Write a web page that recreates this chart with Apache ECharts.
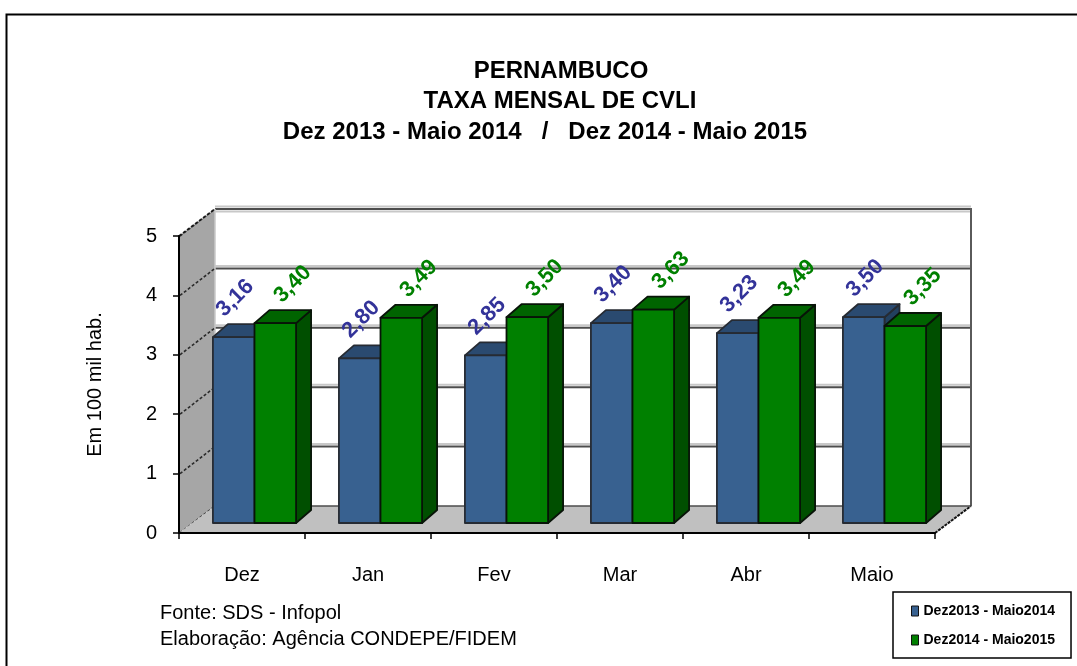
<!DOCTYPE html>
<html><head><meta charset="utf-8">
<script src="https://cdn.jsdelivr.net/npm/echarts@6/dist/echarts.min.js"></script>
<style>html,body{margin:0;padding:0;background:#fff}#c{width:1077px;height:666px}</style>
</head><body><div id="c"></div>
<script>
// ---- data ----
const categories = ['Dez', 'Jan', 'Fev', 'Mar', 'Abr', 'Maio'];
const seriesNames = ['Dez2013 - Maio2014', 'Dez2014 - Maio2015'];
const values2013 = [3.16, 2.80, 2.85, 3.40, 3.23, 3.50];
const values2014 = [3.40, 3.49, 3.50, 3.63, 3.49, 3.35];
const yTicks = [0, 1, 2, 3, 4, 5];
const titleLines = ['PERNAMBUCO', 'TAXA MENSAL DE CVLI', 'Dez 2013 - Maio 2014   /   Dez 2014 - Maio 2015'];
const yAxisName = 'Em 100 mil hab.';
const sourceLines = ['Fonte: SDS - Infopol', 'Elaboração: Agência CONDEPE/FIDEM'];

// ---- styling / layout ----
const FONT = 'Liberation Sans, Arial, sans-serif';
const DEPTH = [36, -27];          // wall depth offset
const BAR_DEPTH = [15, -13];      // bar depth offset
const BLUE = { front: '#386190', top: '#2a4a70', side: '#22405f', stroke: '#262b33', label: '#333399' };
const GREEN = { front: '#008000', top: '#006400', side: '#004f00', stroke: '#081408', label: '#008000' };
const fmt = v => v.toFixed(2).replace('.', ',');

const chart = echarts.init(document.getElementById('c'), null, { renderer: 'canvas' });

function renderWalls(params, api) {
  const cs = params.coordSys;
  const xL = cs.x, xR = cs.x + cs.width;
  const y0 = api.coord([0, 0])[1];
  const yTop = api.coord([0, yTicks[yTicks.length - 1]])[1];
  const dx = DEPTH[0], dy = DEPTH[1];
  const ch = [];
  ch.push({ type: 'rect', shape: { x: xL + dx, y: yTop + dy, width: xR - xL, height: y0 - yTop }, style: { fill: '#ffffff' } });
  yTicks.forEach(v => {
    const y = api.coord([0, v])[1] + dy;
    if (v > 0) {
      ch.push({ type: 'line', shape: { x1: xL + dx, y1: y - 2.5, x2: xR + dx, y2: y - 2.5 }, style: { stroke: '#c8c8c8', lineWidth: 2 } });
      ch.push({ type: 'line', shape: { x1: xL + dx, y1: y, x2: xR + dx, y2: y }, style: { stroke: '#4d4d4d', lineWidth: 2 } });
    }
  });
  ch.push({ type: 'line', shape: { x1: xL + dx, y1: yTop + dy + 2.5, x2: xR + dx, y2: yTop + dy + 2.5 }, style: { stroke: '#c8c8c8', lineWidth: 2 } });
  ch.push({ type: 'line', shape: { x1: xR + dx, y1: yTop + dy - 1, x2: xR + dx, y2: y0 + dy }, style: { stroke: '#5a5a5a', lineWidth: 2 } });
  ch.push({ type: 'polygon', shape: { points: [[xL, yTop], [xL + dx, yTop + dy], [xL + dx, y0 + dy], [xL, y0]] }, style: { fill: '#a6a6a6' } });
  ch.push({ type: 'line', shape: { x1: xL + dx, y1: yTop + dy, x2: xL + dx, y2: y0 + dy }, style: { stroke: '#c8c8c8', lineWidth: 1.5 } });
  yTicks.forEach(v => {
    const y = api.coord([0, v])[1];
    ch.push({ type: 'line', shape: { x1: xL + 1, y1: y, x2: xL + dx, y2: y + dy }, style: { stroke: '#2a2a2a', lineWidth: 1.6, lineDash: [3, 2] } });
  });
  ch.push({ type: 'line', shape: { x1: xL, y1: yTop, x2: xL + dx, y2: yTop + dy }, style: { stroke: '#1a1a1a', lineWidth: 1.6, lineDash: [3, 2] } });
  ch.push({ type: 'polygon', shape: { points: [[xL, y0], [xR, y0], [xR + dx, y0 + dy], [xL + dx, y0 + dy]] }, style: { fill: '#c0c0c0' } });
  ch.push({ type: 'line', shape: { x1: xR, y1: y0, x2: xR + dx, y2: y0 + dy }, style: { stroke: '#111', lineWidth: 2, lineDash: [3, 1] } });
  ch.push({ type: 'line', shape: { x1: xL + dx, y1: y0 + dy, x2: xR + dx, y2: y0 + dy }, style: { stroke: '#4d4d4d', lineWidth: 1.5 } });
  return { type: 'group', children: ch };
}

function makeBarRenderer(side, col) {
  return function (params, api) {
    const idx = api.value(0), val = api.value(1);
    const top = api.coord([idx, val]);
    const base = api.coord([idx, 0]);
    const band = api.size([1, 0])[0];
    const w = band * 0.33;
    const xl = side === 0 ? top[0] - w : top[0];
    const yt = top[1], yb = base[1];
    const dx = BAR_DEPTH[0], dy = BAR_DEPTH[1];
    const st = { stroke: col.stroke, lineWidth: 1.8, lineJoin: 'round' };
    const ch = [
      { type: 'polygon', shape: { points: [[xl + w, yt], [xl + w + dx, yt + dy], [xl + w + dx, yb + dy], [xl + w, yb]] }, style: Object.assign({ fill: col.side }, st) },
      { type: 'polygon', shape: { points: [[xl, yt], [xl + w, yt], [xl + w + dx, yt + dy], [xl + dx, yt + dy]] }, style: Object.assign({ fill: col.top }, st) },
      { type: 'rect', shape: { x: xl, y: yt, width: w, height: yb - yt }, style: Object.assign({ fill: col.front }, st) },
      {
        type: 'text', x: xl + w / 2 + (side === 0 ? 1.5 : 17.5), y: yt - 39, rotation: Math.PI / 4,
        style: { text: fmt(val), fill: col.label, font: 'bold 22px ' + FONT, align: 'center', verticalAlign: 'middle' }
      }
    ];
    return { type: 'group', children: ch };
  };
}

const option = {
  animation: false,
  backgroundColor: '#ffffff',
  title: [
    { text: titleLines[0], left: 556, top: 54, textAlign: 'center', textStyle: { fontFamily: FONT, fontSize: 24, fontWeight: 'bold', color: '#000' } },
    { text: titleLines[1], left: 555, top: 84, textAlign: 'center', textStyle: { fontFamily: FONT, fontSize: 24, fontWeight: 'bold', color: '#000' } },
    { text: titleLines[2], left: 540, top: 115, textAlign: 'center', textStyle: { fontFamily: FONT, fontSize: 24, fontWeight: 'bold', color: '#000' } }
  ],
  legend: {
    orient: 'vertical', left: 893, top: 592,
    data: seriesNames,
    icon: 'rect', itemWidth: 7, itemHeight: 10, itemGap: 15, itemTextGap: 2,
    padding: [12, 16, 11, 18],
    borderColor: '#000', borderWidth: 1.5, backgroundColor: '#fff',
    itemStyle: { borderColor: '#111', borderWidth: 1 },
    textStyle: { fontFamily: FONT, fontSize: 14, fontWeight: 'bold', color: '#000' },
    selectedMode: false
  },
  grid: [
    { left: 179, top: 236, width: 756, height: 297, outerBoundsMode: 'none' },
    { left: 191.5, top: 229, width: 756, height: 294, outerBoundsMode: 'none' }
  ],
  xAxis: [
    {
      gridIndex: 0, type: 'category', data: categories, boundaryGap: true,
      axisLine: { lineStyle: { color: '#000', width: 2 } },
      axisTick: { show: true, length: 6, lineStyle: { color: '#000', width: 1.5 } },
      axisLabel: { fontFamily: FONT, fontSize: 20, color: '#000', margin: 32 },
      splitLine: { show: false }, z: 5
    },
    { gridIndex: 1, type: 'category', data: categories, boundaryGap: true, show: false }
  ],
  yAxis: [
    {
      gridIndex: 0, type: 'value', min: 0, max: 5, interval: 1,
      name: yAxisName, nameLocation: 'middle', nameGap: 74, nameRotate: 90,
      nameTextStyle: { fontFamily: FONT, fontSize: 20, color: '#000' },
      axisLine: { show: true, lineStyle: { color: '#000', width: 2 } },
      axisTick: { show: true, length: 6, lineStyle: { color: '#000', width: 1.5 } },
      axisLabel: { fontFamily: FONT, fontSize: 20, color: '#000', margin: 22 },
      splitLine: { show: false }, z: 5
    },
    { gridIndex: 1, type: 'value', min: 0, max: 5, interval: 1, show: false }
  ],
  graphic: [
    { type: 'rect', left: 4, top: 12, shape: { x: 0, y: 0, width: 1100, height: 700 }, style: { fill: 'none', stroke: '#000', lineWidth: 2 }, z: 100, silent: true },
    { type: 'text', left: 160, top: 603, style: { text: sourceLines[0], font: '20px ' + FONT, fill: '#000' } },
    { type: 'text', left: 160, top: 629, style: { text: sourceLines[1], font: '20px ' + FONT, fill: '#000' } }
  ],
  series: [
    { type: 'custom', name: 'walls', xAxisIndex: 0, yAxisIndex: 0, data: [[0, 0]], renderItem: renderWalls, clip: false, silent: true, z: 1 },
    {
      type: 'custom', name: seriesNames[0], xAxisIndex: 1, yAxisIndex: 1, clip: false, z: 3,
      itemStyle: { color: BLUE.front },
      data: values2013.map((v, i) => [i, v]), renderItem: makeBarRenderer(0, BLUE)
    },
    {
      type: 'custom', name: seriesNames[1], xAxisIndex: 1, yAxisIndex: 1, clip: false, z: 3,
      itemStyle: { color: GREEN.front },
      data: values2014.map((v, i) => [i, v]), renderItem: makeBarRenderer(1, GREEN)
    }
  ]
};
chart.setOption(option);
</script>
</body></html>
